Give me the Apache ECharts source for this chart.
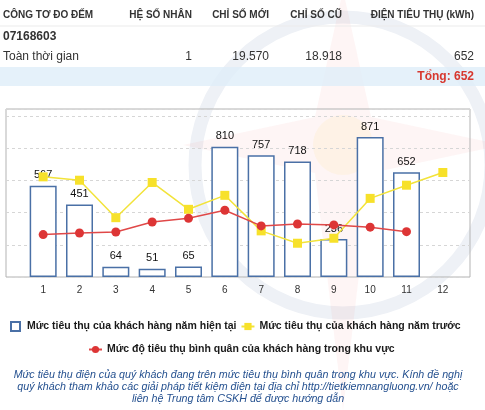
<!DOCTYPE html>
<html>
<head>
<meta charset="utf-8">
<script src="https://cdn.jsdelivr.net/npm/echarts@6/dist/echarts.min.js"></script>
<style>
    html, body { margin: 0; padding: 0; background: #fff; }
    #chart1 { width: 485px; height: 410px; }
</style>
</head>
<body>
<div id="chart1"></div>
<script>
/* du lieu bieu do */
var months = ['1', '2', '3', '4', '5', '6', '7', '8', '9', '10', '11', '12'];
var currentYear = [567, 451, 64, 51, 65, 810, 757, 718, 236, 871, 652, null];
var lastYear = [623, 602, 369, 588, 421, 508, 287, 210, 241, 489, 571, 650];
var areaAverage = [264, 274, 280, 342, 365, 415, 318, 330, 324, 310, 282, null];
var seriesNames = [
    'Mức tiêu thụ của khách hàng năm hiện tại',
    'Mức tiêu thụ của khách hàng năm trước',
    'Mức độ tiêu thụ bình quân của khách hàng trong khu vực'
];

/* du lieu bang */
var tableHeader = ['CÔNG TƠ ĐO ĐẾM', 'HỆ SỐ NHÂN', 'CHỈ SỐ MỚI', 'CHỈ SỐ CŨ', 'ĐIỆN TIÊU THỤ (kWh)'];
var meterCode = '07168603';
var tableRow = ['Toàn thời gian', '1', '19.570', '18.918', '652'];
var totalText = 'Tổng: 652';
var noteLines = [
    'Mức tiêu thụ điện của quý khách đang trên mức tiêu thụ bình quân trong khu vực. Kính đề nghị',
    'quý khách tham khảo các giải pháp tiết kiệm điện tại địa chỉ http://tietkiemnangluong.vn/ hoặc',
    'liên hệ Trung tâm CSKH để được hướng dẫn'
];

var FONT = 'Arial, "Liberation Sans", sans-serif';
var yMax = 1045;

// logo mo phia sau (vong tron + ngoi sao)
function buildWatermark() {
    var cx = 343, cy = 145;
    return [{
        type: 'circle', shape: { cx: cx, cy: cy + 20, r: 148 }, silent: true, z: -10,
        style: { fill: 'none', stroke: '#eef1f6', lineWidth: 13 }
    }, {
        type: 'polygon', silent: true, z: -9,
        shape: {
            points: [[cx, -10], [cx + 28, cy - 28], [cx + 160, cy], [cx + 28, cy + 28],
                [cx, 410], [cx - 28, cy + 28], [cx - 160, cy], [cx - 28, cy - 28]]
        },
        style: { fill: 'rgba(236, 110, 110, 0.07)' }
    }, {
        type: 'circle', shape: { cx: cx, cy: cy, r: 30 }, silent: true, z: -8,
        style: { fill: 'rgba(255, 225, 120, 0.12)' }
    }];
}

// ve bang phia tren bang graphic
function buildTable() {
    var colRight = [null, 192, 269, 342, 474];
    var items = buildWatermark();
    items.push({
        type: 'rect', shape: { x: 0, y: 25.5, width: 485, height: 1 },
        style: { fill: '#ececec' }, silent: true
    });
    items.push({
        type: 'rect', shape: { x: 0, y: 67, width: 485, height: 19 },
        style: { fill: 'rgba(222, 238, 249, 0.8)' }, silent: true
    });
    tableHeader.forEach(function (t, i) {
        items.push({
            type: 'text',
            style: {
                text: t, x: i === 0 ? 3 : colRight[i], y: 15,
                align: i === 0 ? 'left' : 'right', verticalAlign: 'middle',
                fontSize: 10, fontWeight: 'bold', fontFamily: FONT, fill: '#333'
            }
        });
    });
    items.push({
        type: 'text',
        style: {
            text: meterCode, x: 3, y: 37, align: 'left', verticalAlign: 'middle',
            fontSize: 12, fontWeight: 'bold', fontFamily: FONT, fill: '#333'
        }
    });
    tableRow.forEach(function (t, i) {
        items.push({
            type: 'text',
            style: {
                text: t, x: i === 0 ? 3 : colRight[i], y: 57,
                align: i === 0 ? 'left' : 'right', verticalAlign: 'middle',
                fontSize: 12, fontFamily: FONT, fill: '#333'
            }
        });
    });
    items.push({
        type: 'text',
        style: {
            text: totalText, x: 474, y: 77, align: 'right', verticalAlign: 'middle',
            fontSize: 12, fontWeight: 'bold', fontFamily: FONT, fill: '#d7382f'
        }
    });
    items.push({
        type: 'text',
        style: {
            text: noteLines.join('\n'), x: 238, y: 369.5, align: 'center', verticalAlign: 'top',
            lineHeight: 11.7, fontSize: 10.7, fontStyle: 'italic', fontFamily: FONT, fill: '#24508f'
        }
    });
    return items;
}

var legendText = {
    fontSize: 10.5, fontWeight: 'bold', color: '#1a1a1a', fontFamily: FONT
};

var option = {
    animation: false,
    backgroundColor: '#fff',
    graphic: buildTable(),
    legend: [{
        left: 5, top: 316, width: 480, itemWidth: 13, itemHeight: 9, itemGap: 4,
        textStyle: legendText,
        data: [{ name: seriesNames[0], icon: 'path://M0,0H10V10H0Z' }, seriesNames[1]]
    }, {
        left: 83, top: 339, width: 400, itemWidth: 13, itemHeight: 9,
        textStyle: legendText,
        data: [seriesNames[2]]
    }],
    grid: [
        { left: 25, right: 24, top: 109, height: 168 },
        { left: 6, right: 15, top: 109, height: 168, show: true, borderColor: '#b3b3b3', borderWidth: 1 }
    ],
    xAxis: [{
        type: 'category', gridIndex: 0, data: months,
        axisLine: { show: false }, axisTick: { show: false },
        axisLabel: { fontSize: 10, color: '#333', margin: 8, fontFamily: FONT }
    }, {
        type: 'value', gridIndex: 1, show: false
    }],
    yAxis: [{
        type: 'value', gridIndex: 0, min: 0, max: yMax, interval: 200,
        axisLine: { show: false }, axisTick: { show: false },
        axisLabel: { show: false }, splitLine: { show: false }
    }, {
        type: 'value', gridIndex: 1, min: 0, max: yMax, interval: 200,
        axisLine: { show: false }, axisTick: { show: false }, axisLabel: { show: false },
        splitLine: { lineStyle: { type: [3, 3], color: '#d6d6d6' } }
    }],
    series: [{
        name: seriesNames[0], type: 'bar', data: currentYear, barWidth: 27, z: 2,
        itemStyle: { color: '#fff', borderColor: '#4a70a6', borderWidth: 1.5 },
        label: { show: true, position: 'top', distance: 5, fontSize: 11, color: '#111', fontFamily: FONT }
    }, {
        name: seriesNames[1], type: 'line', data: lastYear, z: 4,
        symbol: 'rect', symbolSize: 9, showAllSymbol: true,
        lineStyle: { color: '#f2e33a', width: 1.5 },
        itemStyle: { color: '#f7e12a' }
    }, {
        name: seriesNames[2], type: 'line', data: areaAverage, z: 5,
        symbol: 'circle', symbolSize: 9, showAllSymbol: true,
        lineStyle: { color: '#e04848', width: 1.5 },
        itemStyle: { color: '#dd3535' }
    }]
};

var myChart = echarts.init(document.getElementById('chart1'));
myChart.setOption(option);
</script>
</body>
</html>
